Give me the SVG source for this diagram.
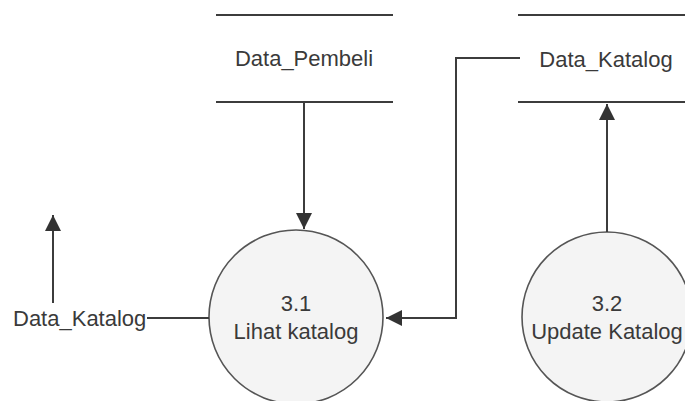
<svg xmlns="http://www.w3.org/2000/svg" width="685" height="401" viewBox="0 0 685 401">
<defs>
<style>
.t{font-family:"Liberation Sans",Arial,sans-serif;font-size:22px;fill:#3a3a3a}
.ln{stroke:#3c3c3c;stroke-width:2;fill:none}
.proc{fill:#f4f4f4;stroke:#555;stroke-width:1.6}
</style>
<marker id="ah" viewBox="0 0 10 10" refX="10" refY="5" markerWidth="8" markerHeight="8" markerUnits="strokeWidth" orient="auto">
<path d="M0,0 L10,5 L0,10 z" fill="#333"/>
</marker>
</defs>
<rect width="685" height="401" fill="#fff"/>
<g id="store-pembeli">
<line class="ln" x1="216" y1="15" x2="393" y2="15"/>
<line class="ln" x1="216" y1="102" x2="393" y2="102"/>
<text class="t" x="304" y="66" text-anchor="middle">Data_Pembeli</text>
</g>
<g id="store-katalog">
<line class="ln" x1="518" y1="15" x2="685" y2="15"/>
<line class="ln" x1="518" y1="102" x2="685" y2="102"/>
<text class="t" x="606" y="67" text-anchor="middle">Data_Katalog</text>
</g>
<g id="p31">
<circle class="proc" cx="296" cy="317" r="87"/>
<text class="t" x="296" y="311" text-anchor="middle">3.1</text>
<text class="t" x="296" y="339" text-anchor="middle">Lihat katalog</text>
</g>
<g id="p32">
<circle class="proc" cx="607" cy="317" r="85"/>
<text class="t" x="607" y="311" text-anchor="middle">3.2</text>
<text class="t" x="607" y="339" text-anchor="middle">Update Katalog</text>
</g>
<g id="ext-label">
<text class="t" x="13" y="326">Data_Katalog</text>
</g>
<g id="connectors">
<line class="ln" x1="304" y1="102" x2="304" y2="229" marker-end="url(#ah)"/>
<polyline class="ln" points="520,58 456,58 456,318 386,318" marker-end="url(#ah)"/>
<line class="ln" x1="607" y1="232" x2="607" y2="104" marker-end="url(#ah)"/>
<line class="ln" x1="147" y1="318" x2="209" y2="318"/>
<line class="ln" x1="53" y1="303" x2="53" y2="215" marker-end="url(#ah)"/>
</g>
</svg>
